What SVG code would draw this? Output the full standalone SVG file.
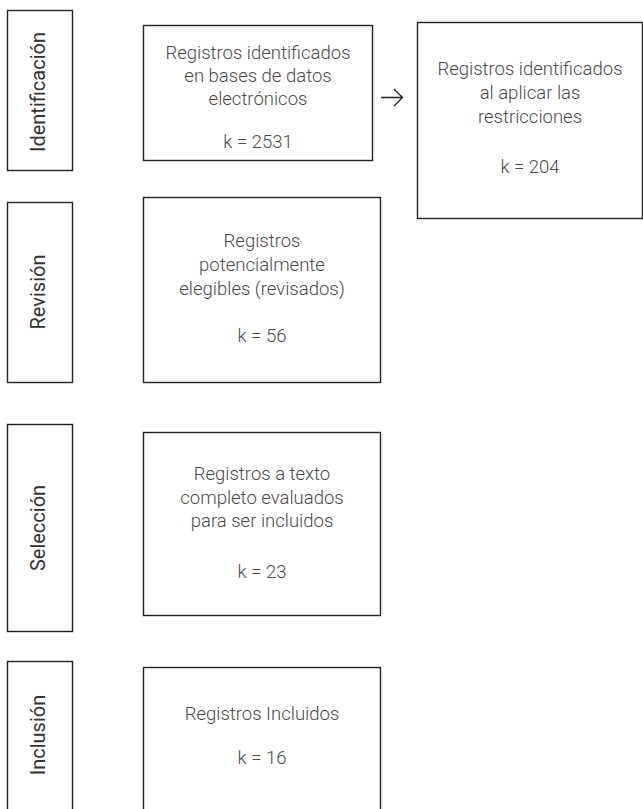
<svg xmlns="http://www.w3.org/2000/svg" width="643" height="809" viewBox="0 0 643 809">
<style>
.box{fill:#fff;stroke:#222;stroke-width:1.4}
.t{font-family:Roboto,"Liberation Sans",sans-serif;font-weight:300;font-size:18.5px;fill:#4a4a4a;text-anchor:middle}
.lbl{font-family:Roboto,"Liberation Sans",sans-serif;font-weight:400;font-size:20px;fill:#333;text-anchor:middle}
.c{fill:none;stroke:#222;stroke-width:1.3}
</style>
<rect width="643" height="809" fill="#fff"/>
<g id="lbl-identificacion"><rect class="box" x="7.5" y="10.5" width="65" height="160"/><text class="lbl" transform="translate(45,92) rotate(-90)">Identificación</text></g>
<g id="lbl-revision"><rect class="box" x="7.5" y="202.5" width="65" height="180"/><text class="lbl" transform="translate(45,292) rotate(-90)">Revisión</text></g>
<g id="lbl-seleccion"><rect class="box" x="7.5" y="424.5" width="65" height="207"/><text class="lbl" transform="translate(45,528) rotate(-90)">Selección</text></g>
<g id="lbl-inclusion"><rect class="box" x="7.5" y="661.5" width="65" height="160"/><text class="lbl" transform="translate(45,735) rotate(-90)">Inclusión</text></g>
<g id="n1"><rect class="box" x="143.5" y="25.5" width="229" height="135"/>
<text class="t" x="258" y="59">Registros identificados</text>
<text class="t" x="258" y="82">en bases de datos</text>
<text class="t" x="258" y="105">electrónicos</text>
<text class="t" x="258" y="148">k = 2531</text></g>
<g id="n2"><rect class="box" x="417.5" y="22.5" width="225" height="196"/>
<text class="t" x="530" y="75">Registros identificados</text>
<text class="t" x="530" y="99">al aplicar las</text>
<text class="t" x="530" y="123">restricciones</text>
<text class="t" x="530" y="173">k = 204</text></g>
<g id="n3"><rect class="box" x="143.5" y="197.5" width="237" height="185"/>
<text class="t" x="262" y="247">Registros</text>
<text class="t" x="262" y="271">potencialmente</text>
<text class="t" x="262" y="295">elegibles (revisados)</text>
<text class="t" x="262" y="342">k = 56</text></g>
<g id="n4"><rect class="box" x="143.5" y="432.5" width="237" height="183"/>
<text class="t" x="262" y="480">Registros a texto</text>
<text class="t" x="262" y="504">completo evaluados</text>
<text class="t" x="262" y="527">para ser incluidos</text>
<text class="t" x="262" y="578">k = 23</text></g>
<g id="n5"><rect class="box" x="143.5" y="667.5" width="237" height="160"/>
<text class="t" x="262" y="720">Registros Incluidos</text>
<text class="t" x="262" y="764">k = 16</text></g>
<g id="connectors"><path class="c" d="M381,97.5 H403 M394,89 L402.5,97.5 L394,106"/></g>
</svg>
